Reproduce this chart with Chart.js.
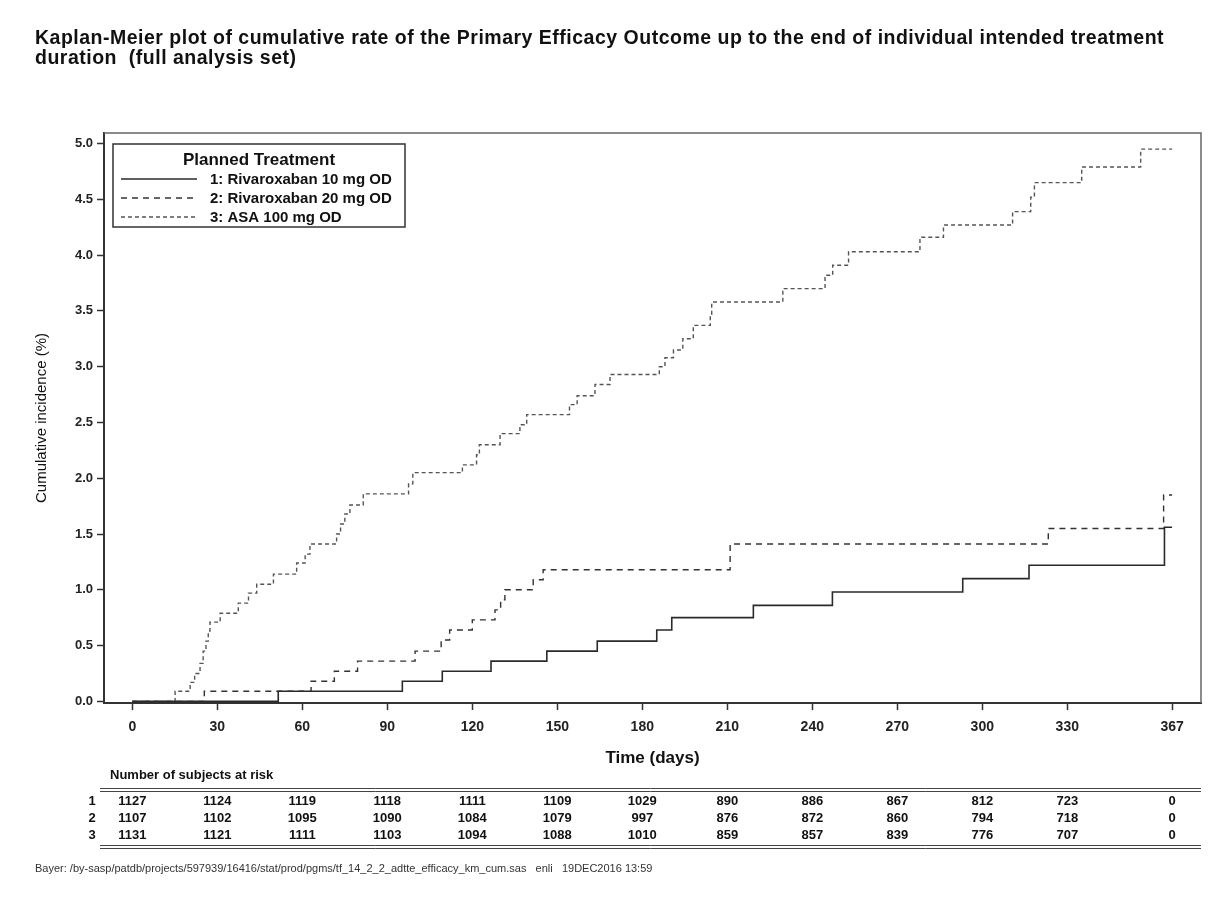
<!DOCTYPE html>
<html>
<head>
<meta charset="utf-8">
<title>Kaplan-Meier plot - Primary Efficacy Outcome</title>
<script src="https://cdn.jsdelivr.net/npm/chart.js@4.4.1/dist/chart.umd.min.js"></script>
<style>
  html, body { margin: 0; padding: 0; background: #fff; }
  #km { display: block; }
</style>
</head>
<body>
<canvas id="km" width="1211" height="909"></canvas>
<script>
// ---- Data: cumulative incidence (%) at each event time (days) ----
const riva10Days = [0, 51.5, 95.3, 109.4, 126.6, 146.3, 164.1, 185.1, 190.4, 219.2, 247.1, 293.1, 316.5, 364.3, 367];
const riva10Pct  = [0, 0.09, 0.18, 0.27, 0.36, 0.45, 0.54, 0.64, 0.75, 0.86, 0.98, 1.10, 1.22, 1.56, 1.56];

const riva20Days = [0, 25.4, 63.1, 71.3, 79.5, 99.8, 109, 112, 120, 128, 130, 131.5, 141.5, 145, 211, 323.3, 364, 367];
const riva20Pct  = [0, 0.09, 0.18, 0.27, 0.36, 0.45, 0.55, 0.64, 0.73, 0.82, 0.91, 1.00, 1.09, 1.18, 1.41, 1.55, 1.85, 1.85];

const asaDays = [0, 15.1, 20.4, 22, 23.9, 25, 26, 26.8, 27.4, 31, 37.4, 41, 43.9, 49.8, 58, 61, 62.7,
                 72.1, 73.5, 75, 76.8, 81.5, 97.5, 99, 116.5, 121.5, 122.5, 129.8, 136.8, 139.2, 154.3,
                 157, 163.3, 168.6, 186, 188, 191, 194.3, 198, 204, 204.5, 229.6, 244.5, 247.2, 252.8,
                 278, 286.3, 310.7, 317.1, 318.4, 335.1, 355.9, 367];
const asaPct  = [0, 0.09, 0.17, 0.25, 0.34, 0.45, 0.54, 0.63, 0.71, 0.79, 0.88, 0.97, 1.05, 1.14, 1.24, 1.32, 1.41,
                 1.50, 1.59, 1.68, 1.76, 1.86, 1.95, 2.05, 2.12, 2.21, 2.30, 2.40, 2.48, 2.57, 2.66,
                 2.74, 2.84, 2.93, 3.00, 3.08, 3.15, 3.25, 3.37, 3.47, 3.58, 3.70, 3.82, 3.91, 4.03,
                 4.16, 4.27, 4.39, 4.52, 4.65, 4.79, 4.95, 4.95];

// ---- Axis ticks ----
const xTickValues = [0, 30, 60, 90, 120, 150, 180, 210, 240, 270, 300, 330, 367];
const yTickValues = [0, 0.5, 1.0, 1.5, 2.0, 2.5, 3.0, 3.5, 4.0, 4.5, 5.0];

// ---- Number of subjects at risk (at each x tick) ----
const riskTimes  = [0, 30, 60, 90, 120, 150, 180, 210, 240, 270, 300, 330, 367];
const riskGroups = ['1', '2', '3'];
const riskRiva10 = [1127, 1124, 1119, 1118, 1111, 1109, 1029, 890, 886, 867, 812, 723, 0];
const riskRiva20 = [1107, 1102, 1095, 1090, 1084, 1079, 997, 876, 872, 860, 794, 718, 0];
const riskAsa    = [1131, 1121, 1111, 1103, 1094, 1088, 1010, 859, 857, 839, 776, 707, 0];

const seriesLabels = ['1: Rivaroxaban 10 mg OD', '2: Rivaroxaban 20 mg OD', '3: ASA 100 mg OD'];
const titleLines = [
  'Kaplan-Meier plot of cumulative rate of the Primary Efficacy Outcome up to the end of individual intended treatment',
  'duration  (full analysis set)'
];
const footerText = 'Bayer: /by-sasp/patdb/projects/597939/16416/stat/prod/pgms/tf_14_2_2_adtte_efficacy_km_cum.sas   enli   19DEC2016 13:59';

const FONT = '"Liberation Sans", Arial, Helvetica, sans-serif';

const toPoints = (days, pct) => days.map((d, i) => ({ x: d, y: pct[i] }));

// Extra drawing: frame, legend box, title, risk table and footer
const kmExtras = {
  id: 'kmExtras',
  beforeDraw(chart) {
    const ctx = chart.ctx;
    ctx.save();
    ctx.fillStyle = '#ffffff';
    ctx.fillRect(0, 0, chart.width, chart.height);
    ctx.restore();
  },
  afterDatasetsDraw(chart) {
    const ctx = chart.ctx;
    const a = chart.chartArea;
    ctx.save();
    // top and right frame of the plot
    ctx.strokeStyle = '#666';
    ctx.lineWidth = 1.5;
    ctx.beginPath();
    ctx.moveTo(a.left, a.top);
    ctx.lineTo(a.right, a.top);
    ctx.lineTo(a.right, a.bottom);
    ctx.stroke();

    // legend box
    const bx = 113, by = 144, bw = 292, bh = 83;
    ctx.fillStyle = '#fff';
    ctx.fillRect(bx, by, bw, bh);
    ctx.strokeStyle = '#333';
    ctx.lineWidth = 1.5;
    ctx.strokeRect(bx, by, bw, bh);
    ctx.fillStyle = '#111';
    ctx.textBaseline = 'middle';
    ctx.textAlign = 'center';
    ctx.font = 'bold 17px ' + FONT;
    ctx.fillText('Planned Treatment', 259, 160);
    ctx.textAlign = 'left';
    ctx.font = 'bold 15px ' + FONT;
    const rowY = [179, 198, 217];
    chart.data.datasets.forEach((ds, i) => {
      ctx.save();
      ctx.strokeStyle = ds.borderColor;
      ctx.lineWidth = ds.borderWidth;
      ctx.setLineDash(ds.borderDash || []);
      ctx.beginPath();
      ctx.moveTo(121, rowY[i]);
      ctx.lineTo(197, rowY[i]);
      ctx.stroke();
      ctx.restore();
      ctx.fillText(ds.label, 210, rowY[i] + 1);
    });
    ctx.restore();
  },
  afterDraw(chart) {
    const ctx = chart.ctx;
    const a = chart.chartArea;
    const xs = chart.scales.x;
    ctx.save();
    // title (lightly tracked bold type)
    ctx.fillStyle = '#111';
    ctx.textBaseline = 'middle';
    ctx.textAlign = 'left';
    ctx.font = 'bold 19.5px ' + FONT;
    ctx.letterSpacing = '0.5px';
    ctx.fillText(titleLines[0], 35, 39);
    ctx.fillText(titleLines[1], 35, 59);
    ctx.letterSpacing = '0px';

    // risk table
    ctx.font = 'bold 13px ' + FONT;
    ctx.fillText('Number of subjects at risk', 110, 775);
    ctx.strokeStyle = '#444';
    ctx.lineWidth = 1;
    [788.5, 791.5, 845.5, 848.5].forEach(y => {
      ctx.beginPath();
      ctx.moveTo(100, y);
      ctx.lineTo(a.right, y);
      ctx.stroke();
    });
    const rows = [riskRiva10, riskRiva20, riskAsa];
    const rowY = [801, 818, 835];
    ctx.font = 'bold 13px ' + FONT;
    ctx.textAlign = 'center';
    rows.forEach((vals, r) => {
      ctx.fillText(riskGroups[r], 92, rowY[r]);
      vals.forEach((v, i) => {
        ctx.fillText(String(v), xs.getPixelForValue(riskTimes[i]), rowY[r]);
      });
    });

    // footer
    ctx.textAlign = 'left';
    ctx.fillStyle = '#333';
    ctx.font = '11px ' + FONT;
    ctx.fillText(footerText, 35, 869);
    ctx.restore();
  }
};

new Chart(document.getElementById('km'), {
  type: 'line',
  data: {
    datasets: [
      {
        label: seriesLabels[0],
        data: toPoints(riva10Days, riva10Pct),
        borderColor: '#2a2a2a',
        borderWidth: 1.6,
        borderDash: [],
        stepped: 'before',
        pointRadius: 0,
        fill: false
      },
      {
        label: seriesLabels[1],
        data: toPoints(riva20Days, riva20Pct),
        borderColor: '#333',
        borderWidth: 1.4,
        borderDash: [6, 5],
        stepped: 'before',
        pointRadius: 0,
        fill: false
      },
      {
        label: seriesLabels[2],
        data: toPoints(asaDays, asaPct),
        borderColor: '#555',
        borderWidth: 1.4,
        borderDash: [4, 3],
        stepped: 'before',
        pointRadius: 0,
        fill: false
      }
    ]
  },
  options: {
    responsive: false,
    animation: false,
    layout: { padding: { top: 133, left: 0, right: 10, bottom: 136 } },
    plugins: {
      legend: { display: false },
      title: { display: false },
      tooltip: { enabled: false }
    },
    scales: {
      x: {
        type: 'linear',
        min: -10,
        max: 377.2,
        afterBuildTicks: s => { s.ticks = xTickValues.map(v => ({ value: v })); },
        afterFit: s => { s.height = 70; },
        ticks: {
          autoSkip: false,
          maxRotation: 0,
          padding: 9,
          color: '#222',
          font: { family: FONT, size: 14, weight: 'bold' },
          callback: v => String(v)
        },
        grid: { drawOnChartArea: false, drawTicks: true, tickLength: 7, tickColor: '#333', tickWidth: 1.5 },
        border: { display: true, color: '#333', width: 2 },
        title: {
          display: true,
          text: 'Time (days)',
          color: '#111',
          font: { family: FONT, size: 17, weight: 'bold' },
          padding: { top: 0, bottom: 4 }
        }
      },
      y: {
        type: 'linear',
        min: -0.015,
        max: 5.095,
        afterBuildTicks: s => { s.ticks = yTickValues.map(v => ({ value: v })); },
        afterFit: s => { s.width = 104; },
        ticks: {
          padding: 4,
          color: '#222',
          font: { family: FONT, size: 13, weight: 'bold' },
          callback: v => Number(v).toFixed(1)
        },
        grid: { drawOnChartArea: false, drawTicks: true, tickLength: 7, tickColor: '#333', tickWidth: 1.5 },
        border: { display: true, color: '#333', width: 2 },
        title: {
          display: true,
          text: 'Cumulative incidence (%)',
          color: '#111',
          font: { family: FONT, size: 15 },
          padding: { top: 33, bottom: 0 }
        }
      }
    }
  },
  plugins: [kmExtras]
});
</script>
</body>
</html>
